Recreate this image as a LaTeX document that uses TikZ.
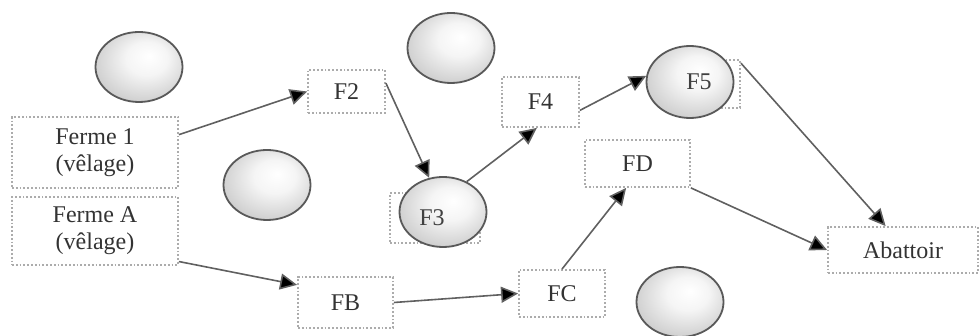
\documentclass[tikz,border=0pt]{standalone}
\usepackage{fontspec}
\setmainfont{Liberation Serif}
\usetikzlibrary{arrows.meta,shapes.geometric}
\pgfdeclareradialshading{softball}{\pgfpoint{6bp}{8bp}}{%
  color(0bp)=(white); color(12bp)=(white!92!gray); color(30bp)=(gray!40); color(50bp)=(gray!60)}
\begin{document}
\begin{tikzpicture}[x=1pt,y=-1pt,
  box/.style={draw=gray!65,dotted,line width=1.8pt,rectangle,inner sep=0pt,
    font=\fontsize{24}{27}\selectfont,align=center,text=black!80},
  blob/.style={ellipse,draw=black!65,line width=1.8pt,shading=softball,
    minimum width=87pt,minimum height=70pt,inner sep=0pt},
  lbl/.style={font=\fontsize{24}{27}\selectfont,text=black!75,inner sep=0pt},
  arr/.style={draw=gray!75!black,line width=1.6pt,-{Triangle[length=17pt,width=16pt,fill=black]}}]
\useasboundingbox (0,0) rectangle (980,336);
% plain ellipses
\node[blob] (e1) at (139,67) {};
\node[blob] (e2) at (267,185) {};
\node[blob] (e3) at (451,48) {};
\node[blob] (e4) at (680,302) {};
% boxes
\node[box,minimum width=166pt,minimum height=71pt] (f1) at (95,152.5) {Ferme 1\\(vêlage)};
\node[box,minimum width=166pt,minimum height=68pt] (fa) at (95,231) {Ferme A\\(vêlage)};
\node[box,minimum width=77pt,minimum height=43pt] (f2) at (346.5,91.5) {F2};
\node[box,minimum width=95pt,minimum height=51pt] (fb) at (345.5,302.5) {FB};
\node[box,minimum width=77pt,minimum height=50pt] (f4) at (540.5,102) {F4};
\node[box,minimum width=105pt,minimum height=47pt] (fd) at (637.5,163.5) {FD};
\node[box,minimum width=86pt,minimum height=47pt] (fc) at (562,293.5) {FC};
\node[box,minimum width=150pt,minimum height=46pt] (ab) at (903,250) {Abattoir};
% F3 and F5 : box behind ellipse
\node[box,minimum width=90pt,minimum height=50pt] (f3b) at (435,218) {};
\node[blob] (f3) at (443,212) {};
\node[lbl] (f3t) at (432,218) {F3};
\node[box,minimum width=80pt,minimum height=48pt] (f5b) at (700,84) {};
\node[blob,minimum height=72pt] (f5) at (690,82) {};
\node[lbl] (f5t) at (699,82) {F5};
% connectors
\draw[arr] (f1.12) -- (f2.west);
\draw[arr] (f2.12) -- (f3.112);
\draw[arr] (f3.52) -- (f4.262);
\draw[arr] (f4.-12) -- (f5.172);
\draw[arr] (f5b.27) -- (ab.126);
\draw[arr] (fd.south east) -- (ab.west);
\draw[arr] (fa.-20) -- (fb.160);
\draw[arr] (fb.east) -- (fc.west);
\draw[arr] (fc.north) -- (fd.-115);
\end{tikzpicture}
\end{document}
